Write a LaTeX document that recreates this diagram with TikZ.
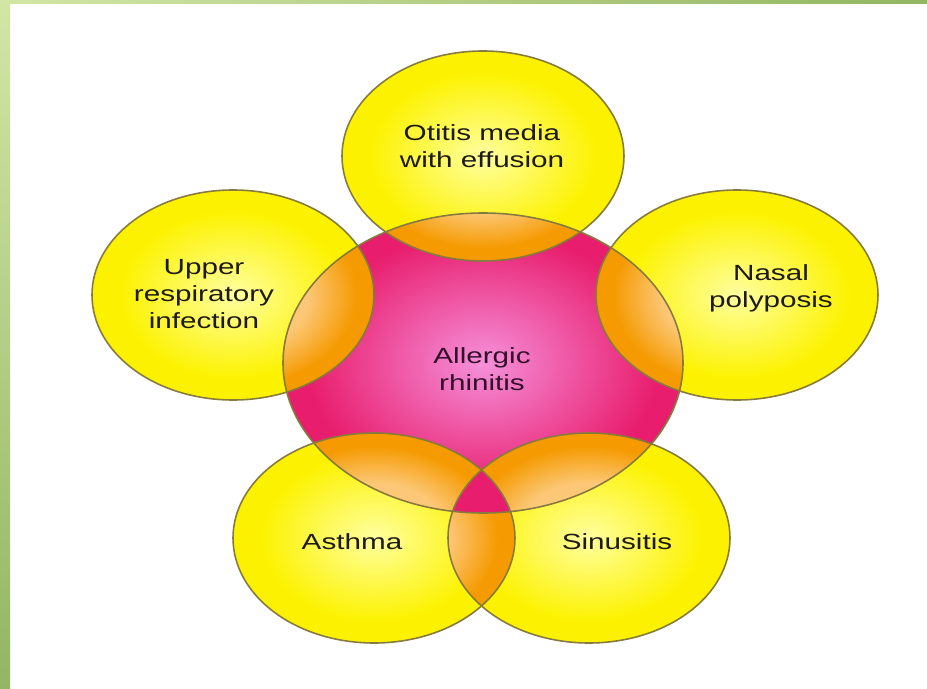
\documentclass[tikz,border=0pt]{standalone}
\usepackage{fontspec}
\newfontfamily\etiqfont{Liberation Sans}[FakeStretch=1.35]
\usetikzlibrary{positioning}
\definecolor{amarillo}{HTML}{FCF200}
\definecolor{amarilloclaro}{HTML}{FFFFA0}
\definecolor{naranja}{HTML}{F59A00}
\definecolor{naranjaclaro}{HTML}{FCC878}
\definecolor{rosa}{HTML}{E81D6D}
\definecolor{rosaclaro}{HTML}{F590DA}
\definecolor{contorno}{HTML}{877A3E}
\definecolor{verdeclaro}{HTML}{D2E6A6}
\definecolor{verdeoscuro}{HTML}{93B564}
\definecolor{tinta}{HTML}{1E1A16}
\definecolor{tintarosa}{HTML}{34102C}
\pgfdeclareradialshading{sombraamarilla}{\pgfpointorigin}{color(0bp)=(amarilloclaro); color(20bp)=(amarillo); color(50bp)=(amarillo)}
\pgfdeclareradialshading{sombranaranja}{\pgfpointorigin}{color(0bp)=(naranjaclaro); color(13bp)=(naranjaclaro); color(22bp)=(naranja); color(50bp)=(naranja)}
\pgfdeclareradialshading{sombrarosa}{\pgfpointorigin}{color(0bp)=(rosaclaro); color(22bp)=(rosa); color(50bp)=(rosa)}
\tikzset{
  every picture/.style={font=\etiqfont},
  borde/.style={draw=contorno, line width=0.9pt},
  amarilla/.style={shade, shading=sombraamarilla},
  naranjada/.style={shade, shading=sombranaranja},
  rosada/.style={shade, shading=sombrarosa},
  etiqueta/.style={text=tinta, align=center, inner sep=0pt, font=\etiqfont\fontsize{12.5}{15.4}\selectfont},
}

\begin{document}
\begin{tikzpicture}[x=0.02cm, y=-0.02cm]
  \useasboundingbox (0,0) rectangle (927,689);
  \fill[white] (0,0) rectangle (927,689);
  \shade[top color=verdeclaro, bottom color=verdeoscuro] (0,0) rectangle (10,689);
  \shade[left color=verdeclaro, right color=verdeoscuro] (0,0) rectangle (927,4);
  % centros
  \coordinate (rinitis) at (483,363);
  \coordinate (otitis) at (483,156);
  \coordinate (vias) at (233,295);
  \coordinate (nasal) at (737,295);
  \coordinate (asma) at (374,538);
  \coordinate (sinus) at (589,538);
  \def\rx{141} \def\ry{105}
  % circulos
  \foreach \n in {otitis,vias,nasal,asma,sinus}
    \path[amarilla] (\n) ellipse [x radius=\rx, y radius=\ry];
  \path[rosada] (rinitis) ellipse [x radius=200, y radius=150];
  % cruces con rinitis
  \foreach \n in {otitis,vias,nasal,asma,sinus} {
    \begin{scope}
      \clip (rinitis) ellipse [x radius=200, y radius=150];
      \path[naranjada] (\n) ellipse [x radius=\rx, y radius=\ry];
    \end{scope}
  }
  \begin{scope}
    \clip (sinus) ellipse [x radius=\rx, y radius=\ry];
    \path[naranjada] (asma) ellipse [x radius=\rx, y radius=\ry];
  \end{scope}
  \begin{scope}
    \clip (rinitis) ellipse [x radius=200, y radius=150];
    \clip (asma) ellipse [x radius=\rx, y radius=\ry];
    \fill[rosa] (sinus) ellipse [x radius=\rx, y radius=\ry];
  \end{scope}
  % bordes
  \foreach \n in {otitis,vias,nasal,asma,sinus}
    \draw[borde] (\n) ellipse [x radius=\rx, y radius=\ry];
  \draw[borde] (rinitis) ellipse [x radius=200, y radius=150];
  % textos
  \node[etiqueta] (tOtitis) at (482,146) {Otitis media\\with effusion};
  \node[etiqueta] (tVias) at (204,294) {Upper\\respiratory\\infection};
  \node[etiqueta] (tNasal) at (771,288) {Nasal\\polyposis};
  \node[etiqueta, text=tintarosa] (tRinitis) at (482,369) {Allergic\\rhinitis};
  \node[etiqueta] (tAsma) at (352,542) {Asthma};
  \node[etiqueta] (tSinus) at (617,542) {Sinusitis};
\end{tikzpicture}
\end{document}
